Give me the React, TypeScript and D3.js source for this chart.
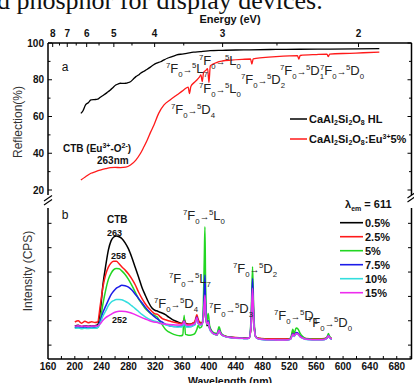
import React from 'react';
import * as d3 from 'd3';

const W = 414;
const H = 383;
const SANS = "'Liberation Sans', Arial, Helvetica, sans-serif";

// ---- panel a: diffuse reflection, [wavelength (nm), reflection (%)]
const reflHost: [number, number][] = [
  [209, 61.7], [212, 63], [216, 66.3], [220, 67.5], [224, 69], [229, 69.2], [234, 69.4],
  [238, 70.5], [243, 71.7], [248, 73], [253, 74.4], [257, 75.8], [261, 77.1], [265, 77.8],
  [268, 78.1], [272, 78], [276, 78.1], [280, 78.5], [283, 78.9], [287, 80.3], [291, 81.7],
  [295, 82.6], [298, 83.5], [303, 84.6], [308, 85.7], [313, 87], [317, 88], [322, 89],
  [328, 89.8], [333, 90.8], [338, 91.7], [345, 92.6], [352, 93.5], [360, 94], [367, 94.4],
  [377, 95], [387, 95.3], [395, 95.6], [402, 95.8], [420, 96], [440, 96.2], [461, 96.3],
  [500, 96.5], [535, 96.6], [580, 96.7], [620, 96.8], [654, 96.9],
];

const reflEu: [number, number][] = [
  [209, 25.4], [216, 27.2], [224, 29.1], [231, 30], [239, 30.9], [246, 31.6], [253, 32.2],
  [260, 32.3], [268, 32.2], [276, 32.4], [283, 33.6], [291, 36.3], [298, 40], [303, 43.5],
  [308, 47.2], [313, 51.5], [318, 55.4], [325, 61.7], [333, 66.3], [342, 69], [352, 71.7],
  [360, 73.8], [366, 75.5], [369, 76], [371, 72.5], [373, 76.3], [378, 78.5], [382, 79.9],
  [386, 81.6], [388, 82.6], [390, 79], [392, 84], [395, 85], [398, 86], [400, 78.5],
  [402, 87.5], [406, 88.5], [412, 89.5], [420, 90.2], [433, 90.7], [450, 91.1], [462, 91.3],
  [464, 88.5], [466, 91.4], [480, 92], [500, 92.6], [520, 93], [532, 93.1], [534, 91.2],
  [536, 93.2], [560, 93.7], [576, 93.9], [578, 92.6], [580, 94], [610, 94.4], [630, 94.7],
  [654, 95],
];

// ---- panel b: excitation spectra (λem = 611 nm), arbitrary intensity
const excWavelength = [
  200, 205, 210, 215, 220, 225, 230, 234, 238, 242,
  246, 250, 254, 258, 262, 266, 270, 275, 280, 285,
  290, 295, 300, 305, 310, 315, 320, 323, 326, 330,
  335, 340, 345, 350, 355, 358, 361, 363, 365, 368,
  372, 376, 379, 382, 384, 386, 389, 391, 393, 394,
  395, 397, 399, 401, 404, 408, 412, 415, 418, 422,
  430, 440, 450, 455, 460, 463, 465, 467, 470, 475,
  485, 500, 510, 518, 522, 525, 527, 530, 533, 536,
  540, 545, 555, 565, 572, 576, 578, 580, 583,
];

const exc0p5 = [
  780, 820, 760, 800, 770, 790, 800, 830, 1400, 2500,
  3250, 3900, 4280, 4440, 4480, 4450, 4380, 4200, 3950, 3600,
  3200, 2800, 2380, 2050, 1750, 1520, 1420, 1400, 1360, 1320,
  1250, 1150, 1060, 990, 930, 900, 910, 1050, 900, 870,
  860, 900, 950, 1150, 1000, 950, 900, 1000, 1500, 1800,
  1300, 800, 850, 700, 550, 450, 420, 600, 450, 380,
  330, 300, 290, 280, 290, 800, 2050, 900, 320, 270,
  250, 240, 240, 250, 280, 500, 400, 480, 450, 360,
  300, 260, 250, 250, 260, 300, 380, 320, 260,
];
const exc2p5 = [
  950, 1000, 900, 980, 920, 960, 930, 950, 1650, 2400,
  2900, 3200, 3370, 3440, 3440, 3340, 3220, 3080, 2920, 2720,
  2480, 2180, 1920, 1700, 1520, 1380, 1280, 1270, 1200, 1100,
  1040, 1000, 960, 930, 900, 880, 900, 1100, 880, 860,
  860, 900, 980, 1250, 1050, 950, 900, 1000, 1600, 1950,
  1400, 850, 900, 720, 560, 460, 430, 620, 460, 390,
  340, 310, 300, 290, 300, 850, 2250, 950, 330, 280,
  260, 250, 250, 260, 290, 520, 420, 500, 470, 370,
  310, 270, 260, 260, 270, 310, 400, 330, 270,
];
const exc5 = [
  700, 720, 680, 700, 690, 710, 700, 720, 1050, 1700,
  2260, 2700, 2950, 3100, 3150, 3140, 3050, 2900, 2700, 2450,
  2180, 1900, 1700, 1500, 1370, 1260, 1200, 1150, 1000, 850,
  650, 540, 470, 420, 390, 380, 420, 1230, 440, 420,
  410, 430, 480, 650, 820, 700, 750, 1200, 3500, 4860,
  2500, 1000, 1300, 800, 600, 500, 480, 750, 500, 400,
  330, 300, 290, 280, 300, 1300, 3220, 1200, 330, 260,
  230, 220, 210, 230, 300, 650, 480, 700, 650, 480,
  350, 260, 240, 240, 250, 320, 480, 350, 260,
];
const exc7p5 = [
  720, 740, 700, 720, 700, 720, 720, 740, 1000, 1350,
  1600, 1850, 2070, 2220, 2340, 2400, 2460, 2440, 2380, 2260,
  2090, 1920, 1740, 1560, 1400, 1260, 1140, 1080, 1020, 950,
  860, 800, 770, 760, 770, 780, 800, 1000, 790, 760,
  760, 800, 850, 1150, 900, 850, 850, 1000, 2200, 2880,
  1700, 900, 1000, 700, 550, 460, 440, 620, 460, 380,
  320, 290, 280, 270, 290, 1100, 2740, 1000, 320, 250,
  220, 210, 205, 220, 260, 480, 380, 520, 480, 370,
  290, 240, 220, 220, 230, 290, 400, 310, 240,
];
const exc10 = [
  690, 700, 680, 690, 680, 700, 690, 710, 900, 1200,
  1400, 1620, 1760, 1830, 1870, 1875, 1860, 1800, 1720, 1610,
  1500, 1380, 1260, 1160, 1080, 1020, 980, 960, 920, 880,
  840, 800, 770, 750, 740, 740, 780, 950, 770, 740,
  750, 790, 840, 1100, 880, 830, 830, 950, 1600, 1900,
  1300, 850, 900, 650, 520, 440, 420, 580, 440, 370,
  310, 280, 270, 260, 280, 900, 2150, 850, 310, 240,
  215, 205, 200, 215, 250, 430, 350, 460, 430, 340,
  280, 230, 215, 215, 225, 280, 370, 300, 235,
];
const exc15 = [
  780, 800, 770, 790, 760, 780, 780, 790, 880, 1020,
  1130, 1200, 1260, 1330, 1370, 1390, 1395, 1380, 1350, 1310,
  1250, 1190, 1130, 1070, 1020, 970, 940, 930, 900, 880,
  860, 850, 840, 830, 830, 830, 860, 980, 840, 820,
  820, 850, 890, 1120, 900, 850, 850, 980, 1700, 2050,
  1400, 880, 950, 680, 540, 450, 430, 600, 450, 380,
  320, 290, 280, 270, 290, 950, 2330, 900, 320, 250,
  225, 215, 210, 225, 260, 450, 370, 480, 450, 350,
  290, 240, 225, 225, 235, 290, 380, 310, 245,
];

const excSeries = [exc0p5, exc2p5, exc5, exc7p5, exc10, exc15];
const dopingLabels = ['0.5%', '2.5%', '5%', '7.5%', '10%', '15%'];
const dopingColors = ['#000000', '#ff1a1a', '#22d622', '#1c1ce8', '#33dede', '#ee2cee'];

const wavelengthTicks = [160, 200, 240, 280, 320, 360, 400, 440, 480, 520, 560, 600, 640, 680];
const energyTicks = [8, 7, 6, 5, 4, 3, 2];
const energyMinorTicks = [7.5, 6.5, 5.5, 4.5, 3.5, 2.5];
const reflTicks = [20, 30, 40, 50, 60, 70, 80, 90, 100];
const intensityTicks = [0, 1000, 2000, 3000, 4000, 5000];

// scales
const x = d3.scaleLinear().domain([160, 702]).range([48, 411.5]);
const ya = d3.scaleLinear().domain([20, 100]).range([190, 43]);
const yb = d3.scaleLinear().domain([-570, 5630]).range([359, 208]);
// the energy axis of the original is slightly offset from 1240/λ
const ex = (e: number) => x(1216 / e + 15);

const left = x.range()[0];
const right = x.range()[1];
const top = ya(100);
const bottom = yb.range()[0];
const aBottom = 195;
const bTop = 208;

function Trans({ x0, y0, to, sub, size = 13 }: { x0: number; y0: number; to: string; sub: string; size?: number }) {
  const s = size * 0.6;
  const up = size * 0.42;
  const dn = size * 0.3;
  return (
    <text x={x0} y={y0} fontSize={size} fill="#222" fontFamily={SANS}>
      <tspan fontSize={s} dy={-up}>7</tspan>
      <tspan dy={up}>F</tspan>
      <tspan fontSize={s} dy={dn}>0</tspan>
      <tspan dy={-dn} fontSize={size * 0.72} fontWeight="bold">→</tspan>
      <tspan fontSize={s} dy={-up}>5</tspan>
      <tspan dy={up}>{to}</tspan>
      <tspan fontSize={s} dy={dn}>{sub}</tspan>
    </text>
  );
}

export default function App() {
  const lineA = d3.line<[number, number]>()
    .x(d => x(d[0]))
    .y(d => ya(d[1]))
    .curve(d3.curveMonotoneX);

  const lineB = d3.line<number>()
    .x((_, i) => x(excWavelength[i]))
    .y(d => yb(d))
    .curve(d3.curveMonotoneX);

  const minorWl = d3.range(180, 701, 20);

  return (
    <svg width={W} height={H} style={{ position: 'absolute', left: 0, top: 0, background: '#fff' }}>
      {/* cut-off line of the surrounding document */}
      <text x={-3} y={8.5} fontSize={26} fontFamily="'Liberation Serif', 'Times New Roman', serif" fill="#111">
        d phosphor for display devices.
      </text>

      {/* frame */}
      <g stroke="#000" strokeWidth={1.5} fill="none">
        <line x1={left} x2={right} y1={top} y2={top} />
        <line x1={left} x2={right} y1={bottom} y2={bottom} />
        <line x1={left} x2={left} y1={top} y2={aBottom} />
        <line x1={left} x2={left} y1={bTop} y2={bottom} />
        <line x1={right} x2={right} y1={top} y2={aBottom} />
        <line x1={right} x2={right} y1={bTop} y2={bottom} />
        {/* axis breaks */}
        <line x1={left - 4} y1={201} x2={left + 4} y2={195.5} strokeWidth={1.1} />
        <line x1={left - 4} y1={205} x2={left + 4} y2={199.5} strokeWidth={1.1} />
        <line x1={right - 4} y1={198} x2={right + 4} y2={192.5} strokeWidth={1.1} />
        <line x1={right - 4} y1={202} x2={right + 4} y2={196.5} strokeWidth={1.1} />
      </g>

      {/* ticks */}
      <g stroke="#000" strokeWidth={1}>
        {minorWl.map(w => (
          <line key={w} x1={x(w)} x2={x(w)} y1={bottom} y2={bottom - 3} />
        ))}
        {energyTicks.map(e => (
          <line key={e} x1={ex(e)} x2={ex(e)} y1={top} y2={top + 4} />
        ))}
        {energyMinorTicks.map(e => (
          <line key={e} x1={ex(e)} x2={ex(e)} y1={top} y2={top + 2.5} />
        ))}
        {reflTicks.map(v => {
          const len = v % 20 === 0 ? 4 : 2.5;
          return (
            <g key={v}>
              <line x1={left} x2={left + len} y1={ya(v)} y2={ya(v)} />
              <line x1={right} x2={right - len} y1={ya(v)} y2={ya(v)} />
            </g>
          );
        })}
        {intensityTicks.map(v => (
          <g key={v}>
            <line x1={left} x2={left + 3.5} y1={yb(v)} y2={yb(v)} />
            <line x1={right} x2={right - 3.5} y1={yb(v)} y2={yb(v)} />
          </g>
        ))}
      </g>

      {/* tick labels */}
      <g fontFamily={SANS} fontWeight="bold" fontSize={10} fill="#111">
        {wavelengthTicks.map(w => (
          <text key={w} x={x(w)} y={370} textAnchor="middle">{w}</text>
        ))}
        {energyTicks.map(e => (
          <text key={e} x={ex(e)} y={37} textAnchor="middle">{e}</text>
        ))}
        {reflTicks.filter(v => v % 20 === 0).map(v => (
          <text key={v} x={44} y={ya(v) + 3.5} textAnchor="end">{v}</text>
        ))}
      </g>

      {/* axis titles */}
      <g fontFamily={SANS} fill="#111">
        <text x={230} y={23} textAnchor="middle" fontWeight="bold" fontSize={11}>Energy (eV)</text>
        <text x={230} y={385} textAnchor="middle" fontWeight="bold" fontSize={10.5}>Wavelength (nm)</text>
        <text transform={`translate(22,122) rotate(-90)`} textAnchor="middle" fontSize={12} fill="#333">Reflection(%)</text>
        <text transform={`translate(32,271) rotate(-90)`} textAnchor="middle" fontSize={12} fill="#333">Intensity (CPS)</text>
        <text x={65} y={71} textAnchor="middle" fontSize={12}>a</text>
        <text x={65} y={219} textAnchor="middle" fontSize={12}>b</text>
      </g>

      {/* panel a curves */}
      <path d={lineA(reflHost) ?? ''} fill="none" stroke="#000" strokeWidth={1.3} />
      <path d={lineA(reflEu) ?? ''} fill="none" stroke="#ff1a1a" strokeWidth={1.3} />

      {/* panel b curves */}
      {excSeries.map((s, i) => (
        <path key={i} d={lineB(s) ?? ''} fill="none" stroke={dopingColors[i]} strokeWidth={1.5} />
      ))}

      {/* panel a annotations */}
      <Trans x0={166} y0={73} to="L" sub="7" />
      <Trans x0={199} y0={65} to="L" sub="0" />
      <Trans x0={199} y0={93} to="L" sub="0" />
      <Trans x0={171} y0={114} to="D" sub="4" />
      <Trans x0={241} y0={84} to="D" sub="2" />
      <Trans x0={280} y0={75} to="D" sub="1" />
      <Trans x0={320} y0={75} to="D" sub="0" />
      <g fontFamily={SANS} fontWeight="bold" fontSize={10} fill="#111">
        <text x={63} y={152}>
          CTB (Eu<tspan fontSize={7} dy={-4}>3+</tspan><tspan dy={4}>-O</tspan>
          <tspan fontSize={7} dy={-4}>2-</tspan><tspan dy={4}>)</tspan>
        </text>
        <text x={97} y={164}>263nm</text>
      </g>

      {/* panel a legend */}
      <g fontFamily={SANS} fontWeight="bold" fontSize={11} fill="#111">
        <line x1={290} x2={307} y1={119} y2={119} stroke="#000" strokeWidth={1.5} />
        <text x={309} y={123}>
          CaAl<tspan fontSize={7} dy={2}>2</tspan><tspan dy={-2}>Si</tspan>
          <tspan fontSize={7} dy={2}>2</tspan><tspan dy={-2}>O</tspan>
          <tspan fontSize={7} dy={2}>8</tspan><tspan dy={-2}> HL</tspan>
        </text>
        <line x1={290} x2={307} y1={139} y2={139} stroke="#ff1a1a" strokeWidth={1.5} />
        <text x={309} y={143}>
          CaAl<tspan fontSize={7} dy={2}>2</tspan><tspan dy={-2}>Si</tspan>
          <tspan fontSize={7} dy={2}>2</tspan><tspan dy={-2}>O</tspan>
          <tspan fontSize={7} dy={2}>8</tspan><tspan dy={-2}>:Eu</tspan>
          <tspan fontSize={7} dy={-4}>3+</tspan><tspan dy={4}>5%</tspan>
        </text>
      </g>

      {/* panel b annotations */}
      <Trans x0={183} y0={220} to="L" sub="0" />
      <Trans x0={169} y0={283} to="L" sub="7" />
      <Trans x0={154} y0={308} to="D" sub="4" />
      <Trans x0={209} y0={313} to="D" sub="3" />
      <Trans x0={233} y0={273} to="D" sub="2" />
      <Trans x0={274} y0={320} to="D" sub="1" />
      <Trans x0={308} y0={327} to="D" sub="0" />
      <g fontFamily={SANS} fontWeight="bold" fill="#111">
        <text x={107} y={223} fontSize={10}>CTB</text>
        <text x={107} y={236} fontSize={9}>263</text>
        <text x={111} y={259} fontSize={9}>258</text>
        <text x={112} y={322.5} fontSize={9}>252</text>
      </g>

      {/* panel b legend */}
      <g fontFamily={SANS} fontWeight="bold" fontSize={11} fill="#111">
        <text x={345} y={208}>
          λ<tspan fontSize={7} dy={3}>em</tspan><tspan dy={-3}> = 611</tspan>
        </text>
        {dopingLabels.map((lab, i) => (
          <g key={lab}>
            <line x1={340} x2={363} y1={222.7 + i * 14} y2={222.7 + i * 14} stroke={dopingColors[i]} strokeWidth={1.6} />
            <text x={365} y={226.7 + i * 14}>{lab}</text>
          </g>
        ))}
      </g>
    </svg>
  );
}
